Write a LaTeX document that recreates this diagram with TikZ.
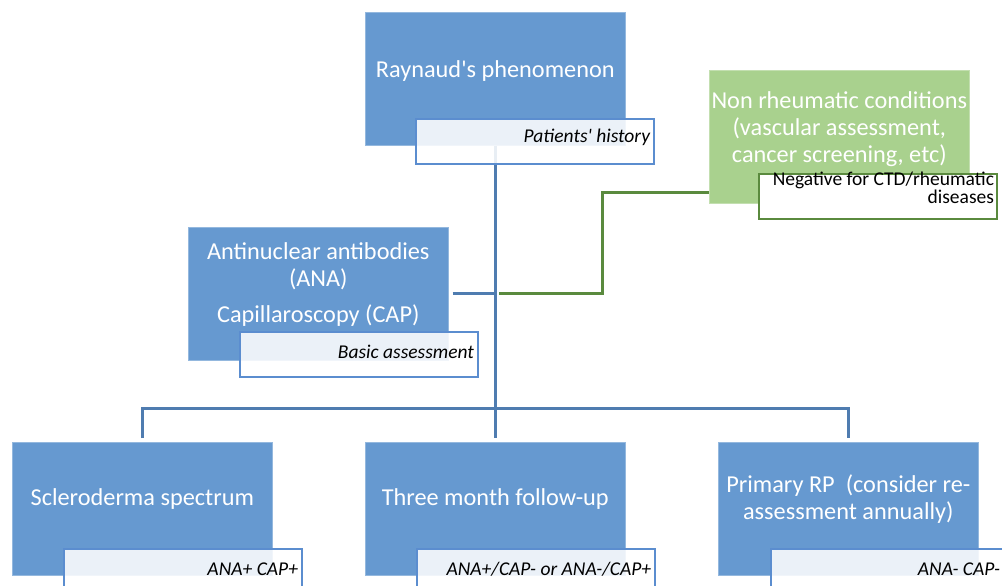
\documentclass[tikz,border=0pt]{standalone}
\usepackage{fontspec}
\setmainfont{Carlito}
\usetikzlibrary{positioning}
\definecolor{boxblue}{HTML}{6699D0}
\definecolor{lineblue}{HTML}{4F7CB0}
\definecolor{subedge}{HTML}{5B8DCF}
\definecolor{boxgreen}{HTML}{A9D18E}
\definecolor{linegreen}{HTML}{5A8A3E}

\tikzset{
  mainbox/.style={fill=boxblue,draw=boxblue!70!white,line width=0.6pt,
    minimum width=260pt,minimum height=133pt,inner sep=0pt,anchor=north west},
  greenbox/.style={mainbox,fill=boxgreen,draw=boxgreen!70!white},
  boxtext/.style={text=white,align=center,font=\fontsize{24.3}{27}\selectfont},
  subbox/.style={draw=subedge,line width=2.2pt,fill=white,fill opacity=0.87,
    minimum width=238pt,minimum height=45pt,inner sep=0pt,anchor=north west},
  greensub/.style={subbox,draw=linegreen,fill opacity=1},
  subtext/.style={text=black,text opacity=1,align=right,inner sep=0pt,
    anchor=base east,font=\fontsize{19.5}{18}\selectfont},
  conn/.style={draw=lineblue,line width=3pt},
  gconn/.style={draw=linegreen,line width=3pt},
}

\begin{document}
\begin{tikzpicture}[x=1pt,y=-1pt]
  \useasboundingbox (0,0) rectangle (1002,586);
  \clip (0,0) rectangle (1002,586);

  % main boxes
  \node[mainbox] (ray) at (365,12) {};
  \node[boxtext] at ([yshift=8pt]ray.center) {Raynaud\textquotesingle s phenomenon};
  \node[greenbox] (nonrheum) at (709,70) {};
  \node[boxtext] at ([yshift=8pt]nonrheum.center)
    {Non rheumatic conditions\\(vascular assessment,\\cancer screening, etc)};
  \node[mainbox] (ana) at (188,227) {};
  \node[boxtext] at ([yshift=9pt]ana.center)
    {Antinuclear antibodies\\(ANA)\\[9pt]Capillaroscopy (CAP)};
  \node[mainbox] (sclero) at (12,442) {};
  \node[boxtext] at ([yshift=10pt]sclero.center) {Scleroderma spectrum};
  \node[mainbox] (follow) at (365,442) {};
  \node[boxtext] at ([yshift=10pt]follow.center) {Three month follow-up};
  \node[mainbox] (primary) at (718,442) {};
  \node[boxtext] at ([yshift=10pt]primary.center)
    {Primary RP~ (consider re-\\assessment annually)};

  % connectors
  \coordinate (fork) at (ray.south |- ana.east);
  \coordinate (bar) at (ray.south |- 0,408);
  \draw[conn] (ray.south) -- ([yshift=4pt]follow.north);
  \draw[conn] ([xshift=4pt]ana.east) -- (fork);
  \draw[conn] ([yshift=4pt]sclero.north) |- (bar) -| ([yshift=4pt]primary.north);
  \coordinate (gturn) at (602,192);
  \draw[gconn] ([xshift=4pt]fork) -| (gturn) -- (gturn -| nonrheum.west);

  % sub boxes
  \node[subbox] (rayhist) at (415,118) {};
  \node[subtext] at ([xshift=-5pt,yshift=-24pt]rayhist.north east)
    {\itshape Patients\textquotesingle\ history};
  \node[greensub] (nonneg) at (758,173) {};
  \node[subtext] at ([xshift=-4pt,yshift=-30pt]nonneg.north east)
    {Negative for CTD/rheumatic\\diseases};
  \node[subbox] (anabasic) at (239,331) {};
  \node[subtext] at ([xshift=-5pt,yshift=-27pt]anabasic.north east)
    {\itshape Basic assessment};
  \node[subbox] (sclerosub) at (63,548) {};
  \node[subtext] at ([xshift=-5pt,yshift=-27pt]sclerosub.north east)
    {\itshape ANA+ CAP+};
  \node[subbox] (followsub) at (416,548) {};
  \node[subtext] at ([xshift=-5pt,yshift=-27pt]followsub.north east)
    {\itshape ANA+/CAP- or ANA-/CAP+};
  \node[subbox] (primarysub) at (770,548) {};
  \node[subtext] at ([xshift=-10pt,yshift=-27pt]primarysub.north east)
    {\itshape ANA- CAP-};
\end{tikzpicture}
\end{document}
